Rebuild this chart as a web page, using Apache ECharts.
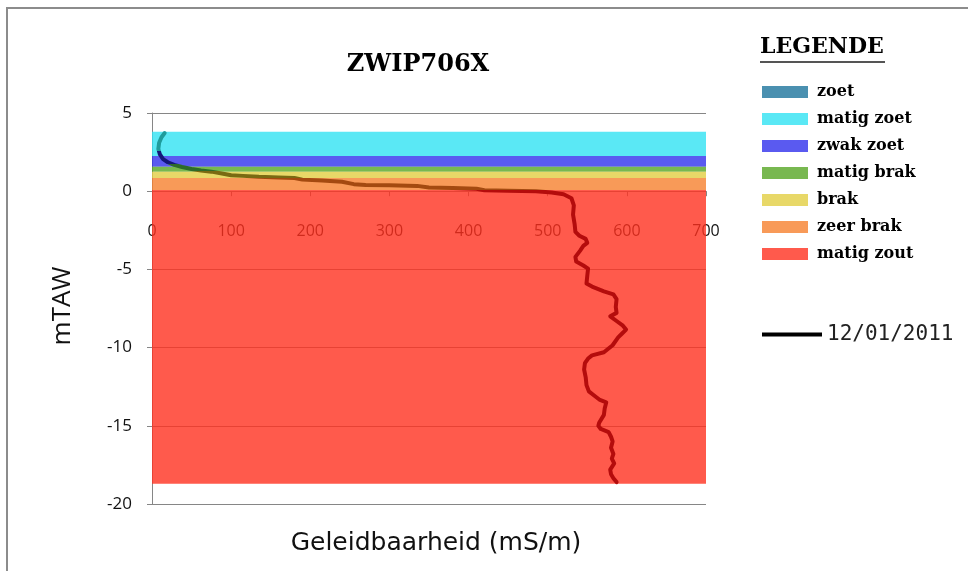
<!DOCTYPE html>
<html>
<head>
<meta charset="utf-8">
<script src="https://cdn.jsdelivr.net/npm/echarts@6/dist/echarts.min.js"></script>
<style>
  html, body { margin: 0; padding: 0; background: #fff; }
  #chart { width: 968px; height: 571px; }
</style>
</head>
<body>
<div id="chart"></div>
<script>
// Salinity classes: legend names, swatch colours and depth ranges (mTAW) of each band
const classNames = ['zoet', 'matig zoet', 'zwak zoet', 'matig brak', 'brak', 'zeer brak', 'matig zout'];
const classColors = ['#4a90b0', '#5ae8f5', '#5a5af0', '#78b850', '#e8d868', '#f89a58', '#ff5a4c'];
const classFill = ['rgba(49,144,190,0.8)', 'rgba(49,226,242,0.8)', 'rgba(49,49,236,0.8)', 'rgba(86,166,36,0.8)',
                   'rgba(226,206,66,0.8)', 'rgba(246,129,46,0.8)', 'rgba(255,49,31,0.8)'];
const classTop = [null, 3.8, 2.25, 1.57, 1.25, 0.85, 0.08];
const classBottom = [null, 2.25, 1.57, 1.25, 0.85, 0.08, -18.7];

// Conductivity log of 12/01/2011: conductivity (mS/m) and depth (mTAW)
const logDate = '12/01/2011';
const conductivity = [16, 12, 9, 8, 10, 14, 20, 28, 38, 50, 62, 75, 90, 100, 115, 135, 160, 180, 190, 215,
  240, 255, 270, 300, 335, 350, 380, 410, 420, 450, 485, 505, 520, 530, 533, 532, 534, 535, 540, 548,
  550, 545, 541, 535, 536, 545, 551, 550, 549, 556, 571, 583, 587, 586, 587, 579, 587, 595, 599, 594,
  589, 582, 571, 556, 551, 547, 546, 548, 549, 552, 557, 566, 574, 572, 571, 565, 564, 567, 577, 580,
  582, 580, 583, 581, 584, 579, 580, 583, 587];
const depth = [3.72, 3.45, 3.1, 2.7, 2.35, 2.05, 1.85, 1.68, 1.55, 1.42, 1.33, 1.25, 1.12, 1.02, 0.98, 0.92, 0.88, 0.84, 0.74, 0.68,
  0.6, 0.45, 0.4, 0.38, 0.34, 0.24, 0.2, 0.16, 0.06, 0.03, 0.0, -0.08, -0.2, -0.45, -0.9, -1.5, -2.1, -2.6, -2.85, -3.05,
  -3.3, -3.5, -3.8, -4.2, -4.5, -4.75, -4.95, -5.4, -5.9, -6.1, -6.4, -6.6, -6.9, -7.4, -7.78, -8.0, -8.3, -8.6, -8.85, -9.1,
  -9.35, -9.85, -10.3, -10.5, -10.7, -11.0, -11.4, -11.9, -12.4, -12.8, -13.0, -13.35, -13.5, -13.9, -14.3, -14.8, -15.0, -15.2, -15.4, -15.7,
  -16.0, -16.4, -16.8, -17.1, -17.4, -17.8, -18.1, -18.35, -18.6];

// Axis tick values
const xTicks = [0, 100, 200, 300, 400, 500, 600, 700];
const yTicks = [-20, -15, -10, -5, 0, 5];

const gridTop = 113, gridBottom = 67, chartHeight = 571;
// The horizontal axis crosses the vertical one at depth 0
const plotHeight = chartHeight - gridTop - gridBottom;
const zeroFromBottom = plotHeight * (0 - yTicks[0]) / (yTicks[yTicks.length - 1] - yTicks[0]);

const chart = echarts.init(document.getElementById('chart'), null, { renderer: 'canvas' });

const bandSeries = classNames.map((name, i) => ({
  name: name,
  type: 'line',
  z: 1,
  color: classColors[i],
  data: [],
  markArea: classTop[i] === null ? undefined : {
    silent: true,
    itemStyle: { color: classFill[i] },
    data: [[{ xAxis: xTicks[0], yAxis: classTop[i] }, { xAxis: xTicks[xTicks.length - 1], yAxis: classBottom[i] }]]
  }
}));

const logSeries = {
  name: logDate,
  type: 'line',
  z: 5,
  showSymbol: false,
  symbol: 'none',
  lineStyle: { width: 4, join: 'round', cap: 'round' },
  data: conductivity.map((c, i) => [c, depth[i]])
};

const option = {
  animation: false,
  backgroundColor: '#ffffff',
  title: {
    text: 'ZWIP706X',
    left: 413,
    top: 48,
    textAlign: 'center',
    textStyle: { fontFamily: 'DejaVu Serif', fontWeight: 'bold', fontSize: 24, color: '#000' }
  },
  grid: { left: 152, right: 262, top: gridTop, bottom: gridBottom, containLabel: false },
  xAxis: {
    type: 'value',
    min: xTicks[0],
    max: xTicks[xTicks.length - 1],
    interval: 100,
    offset: -zeroFromBottom,
    axisLine: { onZero: false, lineStyle: { color: '#868686', width: 1 } },
    axisTick: { show: true, length: 5, lineStyle: { color: '#868686' } },
    axisLabel: { margin: 32, fontFamily: 'Open Sans', fontSize: 16, color: '#111' },
    splitLine: { show: false }
  },
  yAxis: {
    type: 'value',
    min: yTicks[0],
    max: yTicks[yTicks.length - 1],
    interval: 5,
    axisLine: { show: true, lineStyle: { color: '#868686', width: 1 } },
    axisTick: { show: true, length: 5, lineStyle: { color: '#868686' } },
    axisLabel: { margin: 20, fontFamily: 'Open Sans', fontSize: 17, color: '#111' },
    splitLine: { show: true, lineStyle: { color: '#868686', width: 1 } }
  },
  visualMap: {
    show: false,
    type: 'piecewise',
    seriesIndex: classNames.length,
    dimension: 1,
    pieces: [
      { gt: 2.55, color: '#1e9c9c' },
      { gt: 1.75, lte: 2.55, color: '#14187a' },
      { gt: 1.3, lte: 1.75, color: '#2e6b2a' },
      { gt: 0.85, lte: 1.3, color: '#7a6a12' },
      { gt: 0.1, lte: 0.85, color: '#a44a10' },
      { lte: 0.1, color: '#b40c0c' }
    ]
  },
  legend: [
    {
      data: classNames,
      orient: 'vertical',
      left: 762,
      top: 84,
      padding: 0,
      icon: 'rect',
      itemWidth: 46,
      itemHeight: 12,
      itemGap: 11,
      selectedMode: false,
      textStyle: { fontFamily: 'DejaVu Serif', fontWeight: 'bold', fontSize: 16, color: '#000', padding: [0, 0, 0, 4] }
    },
    {
      data: [{ name: logDate, icon: 'rect', itemStyle: { color: '#000' } }],
      left: 762,
      top: 324,
      padding: 0,
      itemWidth: 60,
      itemHeight: 4,
      selectedMode: false,
      textStyle: { fontFamily: 'DejaVu Sans Mono', fontSize: 21, color: '#222', padding: [0, 0, 0, 0] }
    }
  ],
  graphic: [
    {
      type: 'rect',
      shape: { x: 7, y: 8, width: 1000, height: 600 },
      style: { fill: 'none', stroke: '#8c8c8c', lineWidth: 2 },
      silent: true
    },
    {
      type: 'text',
      left: 760,
      top: 36,
      style: { text: 'LEGENDE', fontFamily: 'DejaVu Serif', fontWeight: 'bold', fontSize: 22, fill: '#000' }
    },
    {
      type: 'line',
      shape: { x1: 760, y1: 62, x2: 885, y2: 62 },
      style: { stroke: '#555', lineWidth: 2 }
    },
    {
      type: 'text',
      rotation: Math.PI / 2,
      x: 63, y: 306,
      style: { text: 'mTAW', fontFamily: 'Open Sans', fontSize: 26, fill: '#111', align: 'center', verticalAlign: 'middle' }
    },
    {
      type: 'text',
      x: 436, y: 543,
      style: { text: 'Geleidbaarheid (mS/m)', fontFamily: 'DejaVu Sans', fontSize: 25, fill: '#111', align: 'center', verticalAlign: 'middle' }
    }
  ],
  series: bandSeries.concat([logSeries])
};

chart.setOption(option);
</script>
</body>
</html>
